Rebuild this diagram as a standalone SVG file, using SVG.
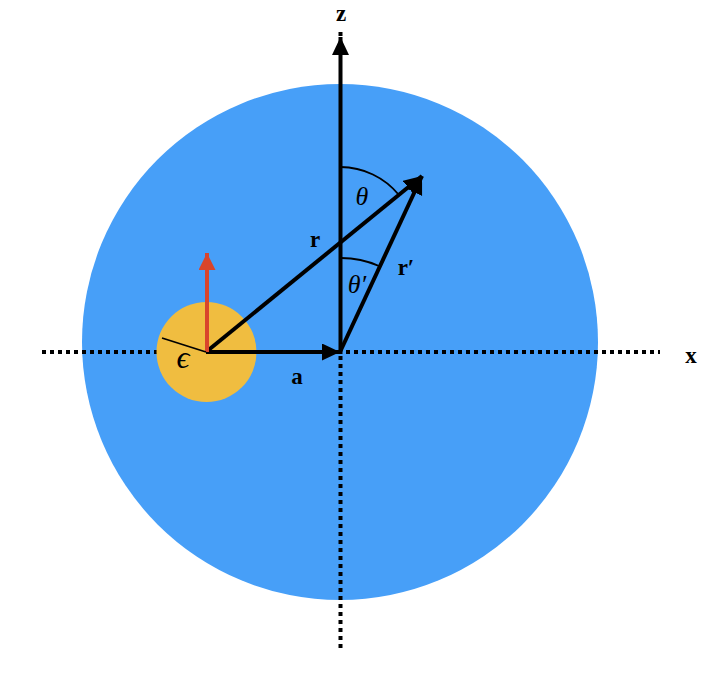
<svg xmlns="http://www.w3.org/2000/svg" width="726" height="681" viewBox="0 0 726 681">
<style>
.lbl{font-family:"Liberation Serif","Times New Roman",serif;font-size:23px;fill:#000;text-anchor:middle}
.b{font-weight:bold}
.i{font-style:italic}
.vec{stroke:#000;stroke-width:4;fill:none}
.dot{stroke:#000;stroke-width:4;stroke-dasharray:4 4;fill:none}
.arc{stroke:#000;stroke-width:1.8;fill:none}
</style>
<defs>
<marker id="ah" markerUnits="userSpaceOnUse" markerWidth="20" markerHeight="18" refX="18" refY="8.5" orient="auto">
<path d="M0,0 L18,8.5 L0,17 Z" fill="#000"/>
</marker>
<marker id="ahr" markerUnits="userSpaceOnUse" markerWidth="20" markerHeight="18" refX="17" refY="8.5" orient="auto">
<path d="M0,0 L17,8.5 L0,17 Z" fill="#D9452B"/>
</marker>
</defs>
<rect width="726" height="681" fill="#fff"/>
<g id="sphere"><circle cx="340" cy="342" r="258" fill="#479FF8"/></g>
<g id="axes">
<line class="dot" x1="42" y1="352" x2="660" y2="352"/>
<line class="dot" x1="340.5" y1="356" x2="340.5" y2="652"/>
<line class="dot" x1="340.5" y1="32" x2="340.5" y2="36"/>
</g>
<g id="dipole"><circle cx="206.5" cy="352" r="50" fill="#F0BD40"/></g>
<g id="connectors">
<line class="vec" x1="340.5" y1="354" x2="340.5" y2="37" marker-end="url(#ah)"/>
<line class="vec" x1="206" y1="352" x2="340" y2="352" marker-end="url(#ah)"/>
<line class="vec" x1="206" y1="352" x2="422" y2="176" marker-end="url(#ah)"/>
<line class="vec" x1="340" y1="352" x2="422" y2="176" marker-end="url(#ah)"/>
<line stroke="#D9452B" stroke-width="4" x1="207" y1="352" x2="207" y2="253" marker-end="url(#ahr)"/>
<line class="arc" x1="206" y1="352" x2="162" y2="338"/>
<path class="arc" d="M340.5,167 A76,76 0 0 1 399,195"/>
<path class="arc" d="M340.5,258 A94,94 0 0 1 379,266"/>
</g>
<g id="labels">
<text class="lbl b" x="341" y="21">z</text>
<text class="lbl b" x="691" y="363">x</text>
<text class="lbl b" x="315" y="247">r</text>
<text class="lbl b" x="406" y="275">r′</text>
<text class="lbl b" x="297" y="384">a</text>
<text class="lbl i" x="362" y="205" style="font-size:26px">θ</text>
<text class="lbl i" x="357" y="293" style="font-size:26px">θ′</text>
<text class="lbl i" x="183" y="368" style="font-size:32px">ϵ</text>
</g>
</svg>
